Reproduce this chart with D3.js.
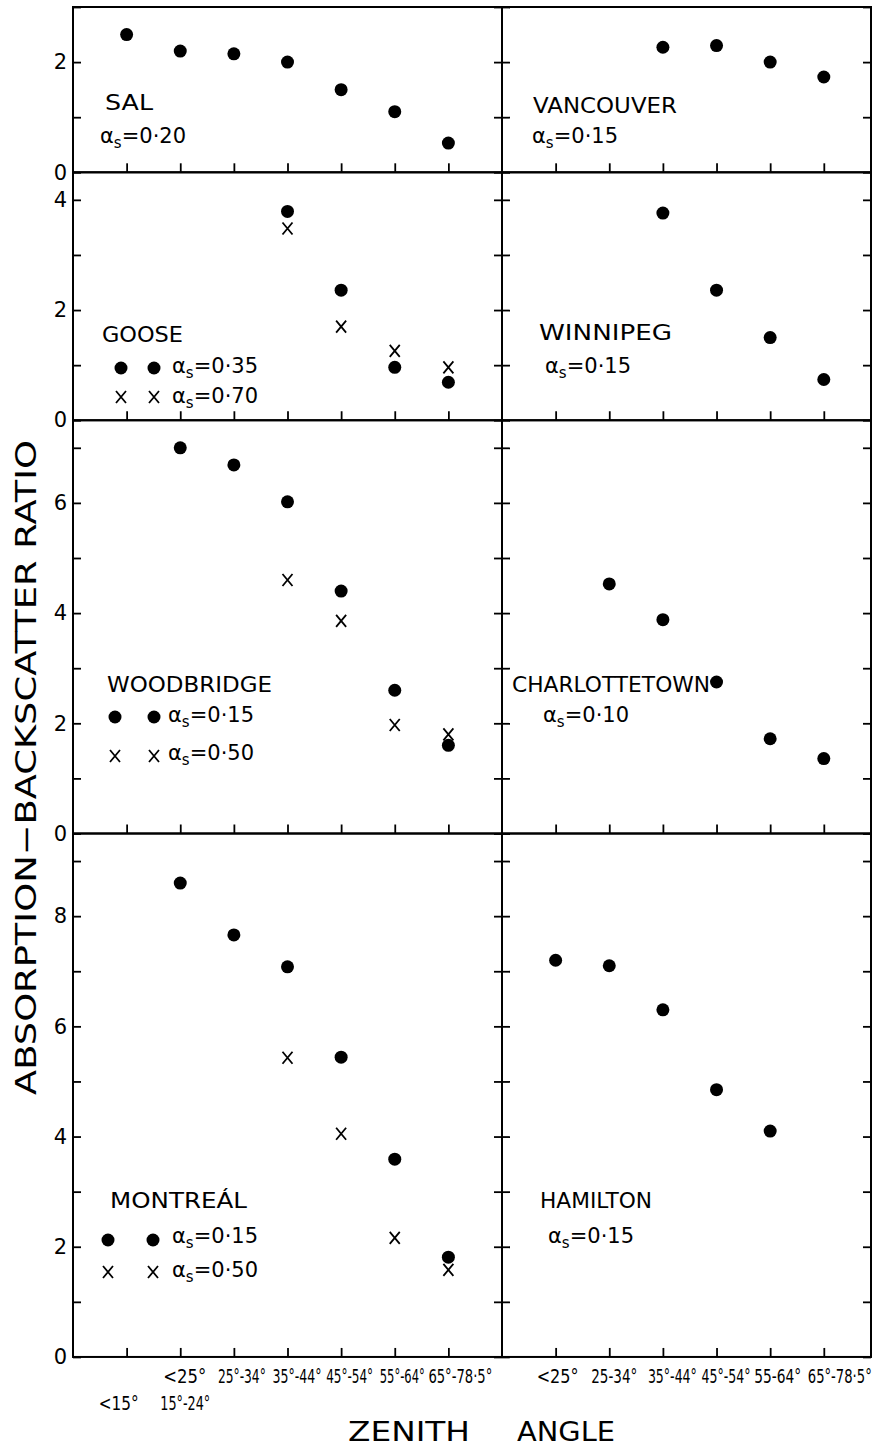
<!DOCTYPE html>
<html>
<head>
<meta charset="utf-8">
<script src="https://cdn.jsdelivr.net/npm/d3@7"></script>
<style>
  body { margin: 0; background: #fff; }
  text { font-family: "DejaVu Sans", sans-serif; fill: #000; }
</style>
</head>
<body>
<svg id="chart" width="877" height="1449"></svg>
<script>
// Zenith-angle classes under the left and right columns
const leftRow1 = ["", "<25°", "25°-34°", "35°-44°", "45°-54°", "55°-64°", "65°-78·5°"];
const leftRow2 = ["<15°", "15°-24°", "", "", "", "", ""];
const rightLabels = ["<25°", "25-34°", "35°-44°", "45°-54°", "55-64°", "65°-78·5°"];

// Vertical extent of each row of panels and its labelled ticks
const rowMax = [3, 4.5, 7.5, 9.5];
const rowTickLabels = [[0, 2], [0, 2, 4], [0, 2, 4, 6], [0, 2, 4, 6, 8]];

// Absorption–backscatter ratio per zenith-angle class (null = no data)
const salDots        = [2.5, 2.2, 2.15, 2.0, 1.5, 1.1, 0.53];
const vancouverDots  = [null, null, 2.27, 2.3, 2.0, 1.73];
const gooseDots      = [null, null, null, 3.79, 2.36, 0.96, 0.69];
const gooseCrosses   = [null, null, null, 3.48, 1.70, 1.26, 0.96];
const winnipegDots   = [null, null, 3.76, 2.36, 1.5, 0.74];
const woodbridgeDots    = [null, 7.0, 6.69, 6.02, 4.4, 2.6, 1.6];
const woodbridgeCrosses = [null, null, null, 4.6, 3.86, 1.97, 1.8];
const charlottetownDots = [null, 4.53, 3.88, 2.75, 1.72, 1.36];
const montrealDots    = [null, 8.6, 7.66, 7.08, 5.44, 3.59, 1.81];
const montrealCrosses = [null, null, null, 5.43, 4.05, 2.16, 1.58];
const hamiltonDots    = [7.2, 7.1, 6.3, 4.85, 4.1, null];

// Station names and surface albedos
const stations = [
  { name: "SAL",           row: 0, side: "L", dots: salDots,           albedo: ["0·20"] },
  { name: "VANCOUVER",     row: 0, side: "R", dots: vancouverDots,     albedo: ["0·15"] },
  { name: "GOOSE",         row: 1, side: "L", dots: gooseDots,         crosses: gooseCrosses,      albedo: ["0·35", "0·70"] },
  { name: "WINNIPEG",      row: 1, side: "R", dots: winnipegDots,      albedo: ["0·15"] },
  { name: "WOODBRIDGE",    row: 2, side: "L", dots: woodbridgeDots,    crosses: woodbridgeCrosses, albedo: ["0·15", "0·50"] },
  { name: "CHARLOTTETOWN", row: 2, side: "R", dots: charlottetownDots, albedo: ["0·10"] },
  { name: "MONTREÁL",      row: 3, side: "L", dots: montrealDots,      crosses: montrealCrosses,   albedo: ["0·15", "0·50"] },
  { name: "HAMILTON",      row: 3, side: "R", dots: hamiltonDots,      albedo: ["0·15"] }
];

// Label placement inside each panel (name baseline, albedo lines, legend symbol columns)
const labelLayout = {
  "SAL":           { nx: 105, ny: 110, nw: 48,  ax: 100, ay: [143] },
  "VANCOUVER":     { nx: 533, ny: 113, nw: 144, ax: 532, ay: [143] },
  "GOOSE":         { nx: 102, ny: 342, nw: 81,  ax: 172, ay: [373, 403], sym: [121, 154], sy: [368, 397] },
  "WINNIPEG":      { nx: 539, ny: 340, nw: 133, ax: 545, ay: [373] },
  "WOODBRIDGE":    { nx: 107, ny: 692, nw: 165, ax: 168, ay: [722, 760], sym: [115, 154], sy: [717, 756] },
  "CHARLOTTETOWN": { nx: 512, ny: 692, nw: 198, ax: 543, ay: [722] },
  "MONTREÁL":      { nx: 110, ny: 1208, nw: 137, ax: 172, ay: [1243, 1277], sym: [108, 153], sy: [1240, 1272] },
  "HAMILTON":      { nx: 540, ny: 1208, nw: 112, ax: 548, ay: [1243] }
};

// Offset and width of each class label relative to its tick
const leftRow1Fit  = [null, [-17, 43], [-16, 48], [-15, 49], [-15, 47], [-15, 45], [-20, 64]];
const leftRow2Fit  = [[-28, 40], [-20, 50]];
const rightFit     = [[-19, 42], [-18, 46], [-15, 49], [-15, 49], [-16, 47], [-16, 64]];

const svg = d3.select("#chart");
const unitY = 55.1, plotTop = 7;
const rowTop = [], rowBottom = [];
let acc = plotTop;
rowMax.forEach((m, i) => { rowTop[i] = acc; acc += m * unitY; rowBottom[i] = acc; });

const xLeft  = d3.scaleLinear().domain([0, 8]).range([73, 502]);
const xRight = d3.scaleLinear().domain([0, 6.88]).range([502, 871]);

const crossPath = "M-5,-6L5,6M5,-6L-5,6";

stations.forEach(st => {
  const x = st.side === "L" ? xLeft : xRight;
  const nCat = st.side === "L" ? 7 : 6;
  const y = d3.scaleLinear().domain([0, rowMax[st.row]]).range([rowBottom[st.row], rowTop[st.row]]);
  const g = svg.append("g");
  const [x0, x1] = x.range();

  // frame
  g.append("rect").attr("x", x0).attr("y", rowTop[st.row])
    .attr("width", x1 - x0).attr("height", rowBottom[st.row] - rowTop[st.row])
    .attr("fill", "none").attr("stroke", "#000").attr("stroke-width", 2);

  const yTicks = d3.range(0, Math.floor(rowMax[st.row]) + 1);
  const labelled = rowTickLabels[st.row];

  // inward ticks on both vertical edges
  const leftAxis = d3.axisLeft(y).tickValues(yTicks).tickSize(-8).tickPadding(6)
    .tickFormat(d => (st.side === "L" && labelled.includes(d)) ? d : "");
  g.append("g").attr("transform", `translate(${x0},0)`).call(leftAxis)
    .call(a => a.select(".domain").remove())
    .call(a => a.selectAll("line").attr("stroke-width", 1.8))
    .call(a => a.selectAll("text").attr("font-size", 21).style("font-family", "DejaVu Sans"));
  g.append("g").attr("transform", `translate(${x1},0)`)
    .call(d3.axisRight(y).tickValues(yTicks).tickSize(-8).tickFormat(""))
    .call(a => a.select(".domain").remove())
    .call(a => a.selectAll("line").attr("stroke-width", 1.8));

  // upward ticks along the bottom edge
  g.append("g").attr("transform", `translate(0,${rowBottom[st.row]})`)
    .call(d3.axisBottom(x).tickValues(d3.range(1, nCat + 1)).tickSize(-9).tickFormat(""))
    .call(a => a.select(".domain").remove())
    .call(a => a.selectAll("line").attr("stroke-width", 1.8));

  // observations
  if (st.crosses) {
    g.selectAll("path.cross").data(st.crosses.map((v, i) => [i + 1, v]).filter(d => d[1] != null))
      .join("path").attr("class", "cross").attr("d", crossPath)
      .attr("transform", d => `translate(${x(d[0])},${y(d[1])})`)
      .attr("stroke", "#000").attr("stroke-width", 1.8).attr("fill", "none");
  }
  g.selectAll("circle.dot").data(st.dots.map((v, i) => [i + 1, v]).filter(d => d[1] != null))
    .join("circle").attr("class", "dot")
    .attr("cx", d => x(d[0])).attr("cy", d => y(d[1])).attr("r", 6.5).attr("fill", "#000");

  // station name
  const L = labelLayout[st.name];
  g.append("text").attr("x", L.nx).attr("y", L.ny).attr("font-size", 22)
    .attr("textLength", L.nw).attr("lengthAdjust", "spacingAndGlyphs").text(st.name);

  // albedo labels, with legend symbols when two albedos are shown
  st.albedo.forEach((a, i) => {
    const t = g.append("text").attr("x", L.ax).attr("y", L.ay[i]).attr("font-size", 21);
    t.append("tspan").text("α");
    t.append("tspan").attr("font-size", 15).attr("dy", 5).text("s");
    t.append("tspan").attr("dy", -5).text("=" + a);
    if (L.sym) {
      L.sym.forEach(sx => {
        if (i === 0) {
          g.append("circle").attr("cx", sx).attr("cy", L.sy[i]).attr("r", 6.5).attr("fill", "#000");
        } else {
          g.append("path").attr("d", crossPath).attr("transform", `translate(${sx},${L.sy[i]})`)
            .attr("stroke", "#000").attr("stroke-width", 1.8).attr("fill", "none");
        }
      });
    }
  });
});

// zenith-angle class labels under the bottom row, horizontally condensed to fit
const yb = rowBottom[3];
function classLabels(labels, fit, x, dy) {
  labels.forEach((lab, i) => {
    if (!lab) return;
    const holder = svg.append("g");
    const t = holder.append("text").attr("font-size", 19).text(lab);
    const k = fit[i][1] / t.node().getComputedTextLength();
    holder.attr("transform", `translate(${x(i + 1) + fit[i][0]},${yb + dy}) scale(${k},1)`);
  });
}
classLabels(leftRow1, leftRow1Fit, xLeft, 26);
classLabels(leftRow2, leftRow2Fit, xLeft, 53);
classLabels(rightLabels, rightFit, xRight, 26);

// axis titles
svg.append("text").attr("x", 348).attr("y", 1441).attr("font-size", 27)
  .attr("textLength", 122).attr("lengthAdjust", "spacingAndGlyphs").text("ZENITH");
svg.append("text").attr("x", 517).attr("y", 1441).attr("font-size", 27)
  .attr("textLength", 98).attr("lengthAdjust", "spacingAndGlyphs").text("ANGLE");
svg.append("text").attr("transform", "translate(36,1095) rotate(-90)")
  .attr("font-size", 29).attr("textLength", 655).attr("lengthAdjust", "spacingAndGlyphs")
  .text("ABSORPTION−BACKSCATTER RATIO");
</script>
</body>
</html>
